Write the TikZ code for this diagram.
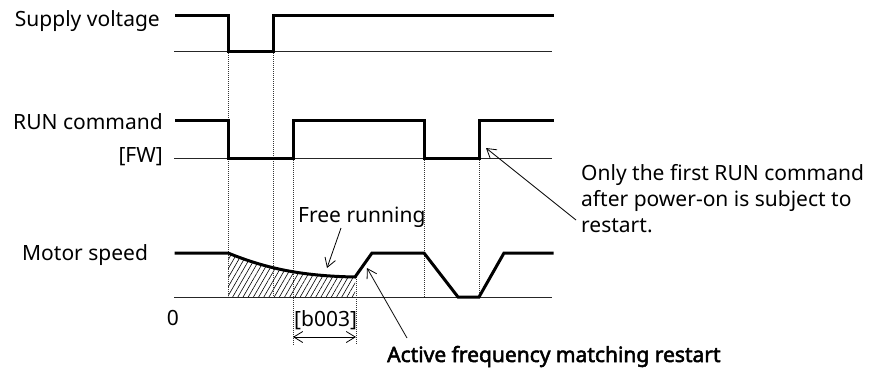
\documentclass[tikz,border=0pt]{standalone}
\usepackage{fontspec}
\setmainfont{Noto Sans}
\newfontfamily\afmfont{Noto Sans}[FakeBold=2.5]
\usetikzlibrary{arrows.meta, patterns.meta, positioning}

\begin{document}
\begin{tikzpicture}[
        x=1pt, y=-1pt,
        lbl/.style = {inner sep=0pt, font=\fontsize{21}{26}\selectfont},
        wave/.style = {line width=3pt, line join=miter, line cap=rect},
        baseline/.style = {line width=0.9pt, black!85},
        guide/.style = {line width=0.7pt, black!80, dash pattern=on 1pt off 1pt},
        pointer/.style = {line width=0.8pt, -{Straight Barb[length=9pt, width=11pt, line width=0.8pt]}},
        span/.style = {line width=0.8pt, {Straight Barb[length=9pt, width=11pt, line width=0.8pt]}-{Straight Barb[length=9pt, width=11pt, line width=0.8pt]}}
    ]
        \useasboundingbox (0,0) rectangle (870,367);

        % Labels
        \node (lblsupply) [lbl, anchor=base east] at (160,26) {Supply voltage};
        \node (lblrun)    [lbl, anchor=base east] at (163,129) {RUN command};
        \node (lblfw)     [lbl, anchor=base east] at (163,162) {[FW]};
        \node (lblmotor)  [lbl, anchor=base west] at (22,260) {Motor speed};
        \node (lblzero)   [lbl, anchor=base] at (173,325) {0};

        % Base lines
        \draw [baseline] (174,51) -- (552,51);
        \draw [baseline] (174,158) -- (552,158);
        \draw [baseline] (174,297) -- (552,297);

        % Hatched area under the free running curve
        \fill [pattern={Lines[angle=60, distance=4.5pt, line width=0.6pt]}]
            (228,253) .. controls (265,268) and (300,276) .. (355,277) -- (355,297) -- (228,297) -- cycle;

        % Guide lines
        \draw [guide] (228,51) -- (228,297);
        \draw [guide] (273,51) -- (273,297);
        \draw [guide] (293,158) -- (293,345);
        \draw [guide] (356,277) -- (356,345);
        \draw [guide] (424,158) -- (424,297);
        \draw [guide] (479,158) -- (479,297);

        % Waveforms
        \draw [wave] (176,15) -- (228,15) -- (228,51) -- (273,51) -- (273,15) -- (552,15);
        \draw [wave] (176,120) -- (228,120) -- (228,158) -- (293,158) -- (293,120) -- (424,120)
            -- (424,158) -- (479,158) -- (479,120) -- (552,120);
        \draw [wave] (176,253) -- (228,253) .. controls (265,268) and (300,276) .. (355,277)
            -- (372,253) -- (424,253) -- (458,297) -- (479,297) -- (504,253) -- (552,253);

        % Annotations
        \node (lblfree) [lbl, anchor=base west] at (298,222) {Free running};
        \node (lblb003) [lbl, anchor=base west] at (294,326) {[b003]};
        \node (lblafm)  [lbl, anchor=base west, font=\fontsize{21}{26}\afmfont] at (387,362) {Active frequency matching restart};
        \node (lblnote) [lbl, anchor=base west, align=left] at (581,232) {Only the first RUN command\\after power-on is subject to\\restart.};

        \coordinate (freetail) at (341,228);
        \coordinate (freetip)  at (327,268);
        \coordinate (afmtail)  at (407,338);
        \coordinate (afmtip)   at (367,268);
        \coordinate (notetail) at (576,220);
        \coordinate (notetip)  at (486,148);
        \coordinate (spanl)    at (293,337);
        \coordinate (spanr)    at (356,337);

        \draw [pointer] (freetail) -- (freetip);
        \draw [pointer] (afmtail) -- (afmtip);
        \draw [pointer] (notetail) -- (notetip);
        \draw [span] (spanl) -- (spanr);

    \end{tikzpicture}
\end{document}
